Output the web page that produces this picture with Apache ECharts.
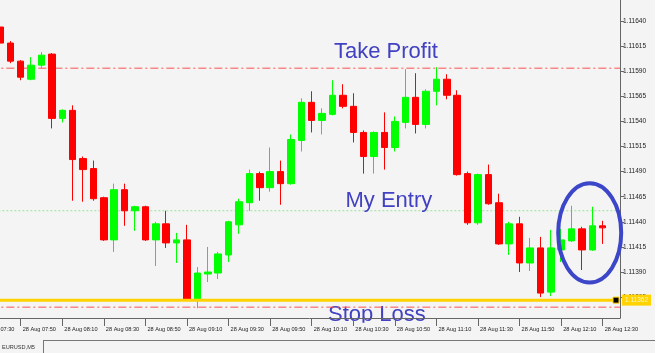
<!DOCTYPE html>
<html><head><meta charset="utf-8">
<script src="https://cdn.jsdelivr.net/npm/echarts@6/dist/echarts.min.js"></script>
<style>html,body{margin:0;padding:0;background:#fff}#c{width:671px;height:353px}</style>
</head><body><div id="c"></div>
<script>
// ---- data (EURUSD M5, 28 Aug) ----
const times = ['07:40','07:45','07:50','07:55','08:00','08:05','08:10','08:15','08:20','08:25',
  '08:30','08:35','08:40','08:45','08:50','08:55','09:00','09:05','09:10','09:15',
  '09:20','09:25','09:30','09:35','09:40','09:45','09:50','09:55','10:00','10:05',
  '10:10','10:15','10:20','10:25','10:30','10:35','10:40','10:45','10:50','10:55',
  '11:00','11:05','11:10','11:15','11:20','11:25','11:30','11:35','11:40','11:45',
  '11:50','11:55','12:00','12:05','12:10','12:15','12:20','12:25','12:30'];
const opens = [1.11634,1.11618,1.11600,1.11582,1.11596,1.11607,1.11543,1.11551,1.11503,1.11493,
  1.11464,1.11422,1.11472,1.11451,1.11455,1.11422,1.11438,1.11419,1.11422,1.11363,
  1.11388,1.11389,1.11407,1.11437,1.11459,1.11488,1.11474,1.11490,1.11478,1.11521,
  1.11559,1.11541,1.11547,1.11566,1.11555,1.11529,1.11505,1.11529,1.11514,1.11539,
  1.11564,1.11537,1.11570,1.11582,1.11566,1.11488,1.11439,1.11487,1.11459,1.11418,
  1.11438,1.11399,1.11414,1.11370,1.11412,1.11421,1.11433,1.11412,1.11436];
const closes = [1.11618,1.11600,1.11584,1.11596,1.11606,1.11543,1.11551,1.11502,1.11492,1.11463,
  1.11422,1.11472,1.11451,1.11455,1.11422,1.11438,1.11419,1.11422,1.11363,1.11389,
  1.11390,1.11408,1.11440,1.11460,1.11488,1.11474,1.11490,1.11478,1.11522,1.11559,
  1.11541,1.11548,1.11566,1.11555,1.11529,1.11505,1.11529,1.11514,1.11540,1.11564,
  1.11537,1.11570,1.11582,1.11566,1.11487,1.11439,1.11487,1.11458,1.11418,1.11438,
  1.11399,1.11414,1.11369,1.11414,1.11422,1.11433,1.11412,1.11436,1.11434];
const lows = [1.11617,1.11598,1.11581,1.11581,1.11593,1.11533,1.11539,1.11461,1.11460,1.11461,
  1.11421,1.11410,1.11436,1.11431,1.11421,1.11396,1.11414,1.11399,1.11362,1.11354,
  1.11380,1.11383,1.11400,1.11428,1.11451,1.11461,1.11470,1.11457,1.11477,1.11510,
  1.11529,1.11527,1.11546,1.11553,1.11519,1.11488,1.11488,1.11492,1.11510,1.11533,
  1.11528,1.11533,1.11556,1.11562,1.11486,1.11437,1.11437,1.11457,1.11417,1.11407,
  1.11390,1.11391,1.11365,1.11366,1.11400,1.11420,1.11392,1.11411,1.11418];
const highs = [1.11636,1.11620,1.11601,1.11604,1.11609,1.11608,1.11552,1.11556,1.11505,1.11501,
  1.11465,1.11478,1.11478,1.11456,1.11456,1.11440,1.11451,1.11429,1.11437,1.11395,
  1.11415,1.11410,1.11441,1.11463,1.11492,1.11490,1.11514,1.11501,1.11527,1.11563,
  1.11570,1.11553,1.11581,1.11577,1.11568,1.11531,1.11530,1.11549,1.11545,1.11592,
  1.11588,1.11572,1.11594,1.11587,1.11571,1.11490,1.11488,1.11497,1.11468,1.11440,
  1.11445,1.11424,1.11425,1.11432,1.11433,1.11456,1.11435,1.11455,1.11441];

const priceTicks = [1.11365,1.11390,1.11415,1.11440,1.11465,1.11490,1.11515,1.11540,1.11565,1.11590,1.11615,1.11640];
const timeTicks = ['07:30','07:50','08:10','08:30','08:50','09:10','09:30','09:50','10:10','10:30','10:50','11:10','11:30','11:50','12:10','12:30'];
const dateLabel = '28 Aug';

const takeProfit = 1.11593;
const myEntry = 1.11451;
const stopLoss = 1.11362;
const lowerStop = 1.11355;

// ---- helpers ----
const toMin = t => { const p = t.split(':'); return (+p[0]) * 60 + (+p[1]); };
const fmtMin = m => { const h = Math.floor(m / 60), mm = Math.round(m % 60); return (h < 10 ? '0' : '') + h + ':' + (mm < 10 ? '0' : '') + mm; };
const candleData = times.map((t, i) => [toMin(t), opens[i], closes[i], lows[i], highs[i]]);

const X_MIN = 440, X_MAX = 758.3;
const Y_MIN = 1.113442, Y_MAX = 1.116609;

// horizontal level across the whole time axis
const level = v => [[X_MIN, v], [X_MAX, v]];
const levelSeries = (v, lineStyle, extra) => Object.assign({
  type: 'line', data: level(v), showSymbol: false, symbol: 'none', silent: true, clip: true,
  lineStyle: lineStyle, z: 1
}, extra || {});

const chart = echarts.init(document.getElementById('c'), null, {renderer: 'canvas'});
const dashDot = [8, 3, 2, 3];
const BG = '#f4f4f4';
const textBlue = '#4141c2';
const option = {
  animation: false,
  backgroundColor: BG,
  grid: {left: -41.66, right: 51, top: 0, bottom: 35, outerBoundsMode: 'none', containLabel: false},
  xAxis: {
    type: 'value', min: X_MIN, max: X_MAX,
    axisLine: {show: true, lineStyle: {color: '#666', width: 1}},
    axisTick: {show: true, length: 8, lineStyle: {color: '#666'}, customValues: timeTicks.map(toMin)},
    axisLabel: {
      customValues: timeTicks.map(toMin), align: 'left', margin: 8, padding: [0, 0, 0, 2],
      fontFamily: 'Liberation Sans', fontSize: 5.6, color: '#222',
      formatter: v => dateLabel + ' ' + fmtMin(v)
    },
    splitLine: {show: false}
  },
  yAxis: {
    type: 'value', position: 'right', min: Y_MIN, max: Y_MAX, scale: true,
    axisLine: {show: true, lineStyle: {color: '#666', width: 1}},
    axisTick: {show: true, length: 4, lineStyle: {color: '#666'}, customValues: priceTicks},
    axisLabel: {customValues: priceTicks, margin: 3, fontFamily: 'Liberation Sans', fontSize: 6.5, color: '#222',
      formatter: v => v.toFixed(5)},
    splitLine: {show: false}
  },
  series: [
    levelSeries(takeProfit, {color: '#ff5050', width: 1, type: dashDot}),
    levelSeries(myEntry, {color: '#9be09b', width: 1, type: [2, 2]}),
    levelSeries(lowerStop, {color: '#ff5050', width: 1, type: dashDot}),
    levelSeries(stopLoss, {color: '#ffd200', width: 3, type: 'solid'}, {
      z: 3,
      endLabel: {show: true, distance: 2, formatter: () => stopLoss.toFixed(5),
        backgroundColor: '#ffd200', color: '#fff7c8', fontFamily: 'Liberation Sans', fontSize: 6.5, padding: [2, 3, 2, 3]}
    }),
    {
      type: 'candlestick',
      data: candleData,
      encode: {x: 0, y: [1, 2, 3, 4]},
      barWidth: 7,
      clip: true, z: 2,
      itemStyle: {color: '#00ff00', color0: '#ff0000', borderColor: '#00ff00', borderColor0: '#ff0000', borderWidth: 1},
      markPoint: {
        silent: true, animation: false,
        data: [{coord: [X_MAX, stopLoss], symbol: 'rect', symbolSize: [6, 6], symbolOffset: [-4, 0],
          itemStyle: {color: '#000', borderColor: '#ffd200', borderWidth: 1}, label: {show: false}}]
      }
    }
  ],
  graphic: [
    {type: 'rect', z: -1, silent: true, shape: {x: 655, y: 0, width: 16, height: 353}, style: {fill: '#ffffff'}},
    {type: 'rect', z: 100, silent: true, shape: {x: 0, y: 340, width: 655, height: 13}, style: {fill: BG}},
    {type: 'line', z: 101, silent: true, shape: {x1: 43, y1: 340.5, x2: 655, y2: 340.5}, style: {stroke: '#777', lineWidth: 1}},
    {type: 'line', z: 101, silent: true, shape: {x1: 43.5, y1: 340, x2: 43.5, y2: 353}, style: {stroke: '#777', lineWidth: 1}},
    {type: 'text', z: 101, silent: true, style: {x: 2, y: 347, text: 'EURUSD,M5', fontFamily: 'Liberation Sans', fontSize: 5.6, fill: '#333', verticalAlign: 'middle'}},
    {type: 'text', z: 50, silent: true, style: {x: 334, y: 52, text: 'Take Profit', fontFamily: 'Liberation Sans', fontSize: 22, fill: textBlue, verticalAlign: 'middle'}},
    {type: 'text', z: 50, silent: true, style: {x: 345.5, y: 201, text: 'My Entry', fontFamily: 'Liberation Sans', fontSize: 22, fill: textBlue, verticalAlign: 'middle'}},
    // Stop Loss text sits under the time scale, which hides its descender
    {type: 'text', z: -0.6, silent: true, style: {x: 328, y: 314.5, text: 'Stop Loss', fontFamily: 'Liberation Sans', fontSize: 22, fill: textBlue, verticalAlign: 'middle'}},
    {type: 'rect', z: -0.5, silent: true, shape: {x: 320, y: 322.8, width: 120, height: 14}, style: {fill: BG}}
  ]
};
chart.setOption(option);

// circle annotation around the last candles, anchored in data space
const centre = chart.convertToPixel({xAxisIndex: 0, yAxisIndex: 0}, [toMin('12:23'), 1.11429]);
chart.setOption({graphic: option.graphic.concat([
  {type: 'ellipse', z: 60, silent: true, shape: {cx: centre[0] + 1.5, cy: centre[1], rx: 31.5, ry: 49.7},
    style: {fill: 'none', stroke: '#3c46c8', lineWidth: 4}}
])});
</script>
</body></html>
